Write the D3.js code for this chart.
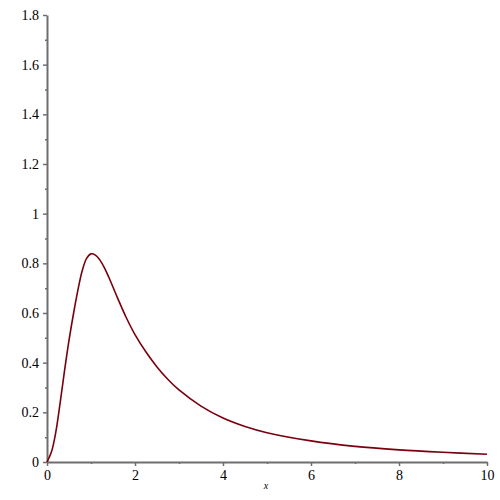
<!DOCTYPE html>
<html>
<head>
<meta charset="utf-8">
<script src="https://cdn.jsdelivr.net/npm/d3@7"></script>
<style>
  body { margin: 0; background: #fff; }
  svg text { font-family: "Liberation Serif", "Times New Roman", Times, serif; }
</style>
</head>
<body>
<div class="chart"></div>
<script>
var svgWidth = 500;
var svgHeight = 500;

var margin = { top: 15, right: 13, bottom: 38, left: 47 };

var width = svgWidth - margin.left - margin.right;
var height = svgHeight - margin.top - margin.bottom;

// values
var xValues = [0, 0.1, 0.2, 0.3, 0.4, 0.5, 0.6, 0.7, 0.8, 0.9, 1.0, 1.1, 1.2, 1.3, 1.4, 1.6, 1.8,
  2.0, 2.25, 2.5, 2.75, 3.0, 3.5, 4, 4.5, 5, 6, 7, 8, 9, 10];
var yValues = [0, 0.04, 0.12, 0.24, 0.37, 0.49, 0.595, 0.69, 0.77, 0.82, 0.838, 0.833, 0.814, 0.784, 0.746, 0.662, 0.582,
  0.513, 0.443, 0.383, 0.332, 0.29, 0.225, 0.177, 0.143, 0.118, 0.085, 0.063, 0.049, 0.039, 0.031];

var xMajor = [0, 2, 4, 6, 8, 10];
var xMinor = [1, 3, 5, 7, 9];
var yMajor = [0, 0.2, 0.4, 0.6, 0.8, 1, 1.2, 1.4, 1.6, 1.8];
var yMinor = [0.1, 0.3, 0.5, 0.7, 0.9, 1.1, 1.3, 1.5, 1.7];

var points = xValues.map(function(x, i) { return { x: x, y: yValues[i] }; });

var svg = d3.select(".chart")
  .append("svg")
  .attr("width", svgWidth)
  .attr("height", svgHeight);

var chartGroup = svg.append("g")
  .attr("transform", `translate(${margin.left}, ${margin.top})`);

var xLinearScale = d3.scaleLinear().domain([0, 10]).range([0, width]);
var yLinearScale = d3.scaleLinear().domain([0, 1.8]).range([height, 0]);

var axisColor = "#6e6e6e";

// minor ticks first
chartGroup.append("g")
  .attr("transform", `translate(0, ${height})`)
  .call(d3.axisBottom(xLinearScale).tickValues(xMinor).tickSize(2).tickFormat(""))
  .call(g => g.select(".domain").remove())
  .selectAll("line").attr("stroke", axisColor).attr("stroke-width", 1.5);

chartGroup.append("g")
  .call(d3.axisLeft(yLinearScale).tickValues(yMinor).tickSize(2).tickFormat(""))
  .call(g => g.select(".domain").remove())
  .selectAll("line").attr("stroke", axisColor).attr("stroke-width", 1.5);

// major axes
var xAxis = chartGroup.append("g")
  .attr("transform", `translate(0, ${height})`)
  .call(d3.axisBottom(xLinearScale).tickValues(xMajor).tickSize(4).tickSizeOuter(0).tickPadding(4).tickFormat(d3.format("d")));

var yAxis = chartGroup.append("g")
  .call(d3.axisLeft(yLinearScale).tickValues(yMajor).tickSize(4).tickSizeOuter(0).tickPadding(4)
    .tickFormat(d => d === 0 || d === 1 ? d3.format("d")(d) : d3.format(".1f")(d)));

[xAxis, yAxis].forEach(function(ax) {
  ax.attr("font-size", 14).attr("font-family", null);
  ax.select(".domain").attr("stroke", axisColor).attr("stroke-width", 2);
  ax.selectAll(".tick line").attr("stroke", axisColor).attr("stroke-width", 1.5);
  ax.selectAll(".tick text").attr("fill", "#000");
});

// curve
var line = d3.line()
  .x(d => xLinearScale(d.x))
  .y(d => yLinearScale(d.y))
  .curve(d3.curveCatmullRom.alpha(0.5));

chartGroup.append("path")
  .datum(points)
  .attr("fill", "none")
  .attr("stroke", "#78000e")
  .attr("stroke-width", 1.6)
  .attr("d", line);

// x axis label
chartGroup.append("text")
  .attr("x", xLinearScale(5) - 1)
  .attr("y", height + 27)
  .attr("text-anchor", "middle")
  .attr("font-style", "italic")
  .attr("font-size", "10px")
  .text("x");
</script>
</body>
</html>
